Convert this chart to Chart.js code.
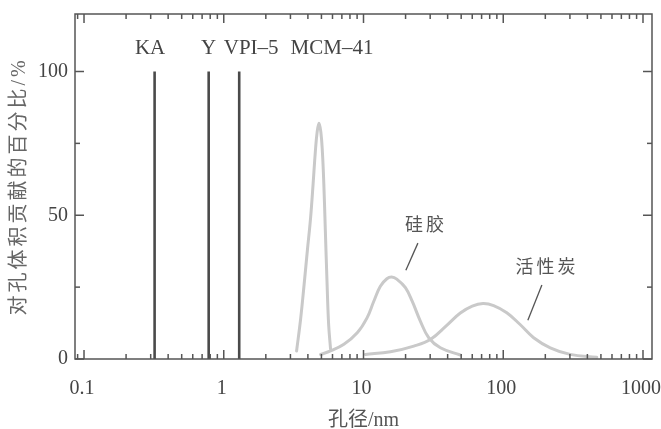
<!DOCTYPE html>
<html><head><meta charset="utf-8">
<script src="https://cdn.jsdelivr.net/npm/chart.js@4/dist/chart.umd.min.js"></script>
<style>html,body{margin:0;padding:0;background:#fff;} canvas{display:block;}</style>
</head><body>
<canvas id="c" width="661" height="429"></canvas>
<script>
// ---- tick labels ----
const xTickValues = [0.1, 1, 10, 100, 1000];
const xTickLabels = ['0.1', '1', '10', '100', '1000'];
const yTickValues = [0, 50, 100];
const yTickLabels = ['0', '50', '100'];

// ---- zeolites: single pore size (nm), 100 % ----
const zeoliteNames = ['KA', 'Y', 'VPI–5'];
const zeoliteSizes = [0.32, 0.78, 1.29];
const zeoliteShare = [100, 100, 100];

// ---- MCM-41 distribution ----
const mcmX = [3.32, 3.55, 3.76, 3.97, 4.18, 4.36, 4.52, 4.66, 4.80, 4.95, 5.08, 5.20, 5.33, 5.48, 5.63, 5.81];
const mcmY = [2.8, 14, 26, 38, 49, 61, 72, 79, 82, 79, 72, 61, 45, 27, 12, 3.5];

// ---- 硅胶 (silica gel) ----
const silicaX = [4.93, 5.81, 7.24, 9.02, 10.6, 11.85, 13.2, 14.7, 15.9, 17.3, 19.95, 22.3, 25.5, 29.3, 35.5, 49.3];
const silicaY = [1.6, 2.8, 5.1, 9.1, 14.3, 20.1, 25.3, 27.9, 28.5, 27.8, 24.8, 20.1, 13.2, 7.4, 3.9, 1.4];

// ---- 活性炭 (activated carbon) ----
const carbonX = [10.3, 15.6, 22.9, 30.1, 39.6, 49.3, 60, 71.6, 85.3, 106, 132, 165, 217, 301, 467];
const carbonY = [1.6, 2.5, 4.5, 6.8, 11.8, 16.0, 18.4, 19.3, 18.6, 16.1, 12, 7.4, 3.9, 1.6, 0.6];

// ---- text annotations (anchored in data units) ----
const topLabels = ['KA', 'Y', 'VPI–5', 'MCM–41'];
const topLabelX = [0.297, 0.78, 1.57, 5.95];
const topLabelY = 106.2;
const curveNames = ['硅胶', '活性炭'];
const curveLabelX = [28, 206];
const curveLabelY = [46.9, 32.3];
const leaderX = [[24.5, 20.1], [189, 150]];
const leaderY = [[40.3, 30.9], [25.7, 13.5]];

const SERIF = "'Liberation Serif', 'Noto Sans CJK SC', serif";
const CJK = "'Noto Sans CJK SC', 'Liberation Serif', sans-serif";
const AXIS = '#555';
const pts = (xs, ys) => xs.map((v, i) => ({x: v, y: ys[i]}));

const datasets = [];
zeoliteSizes.forEach((s, i) => {
  datasets.push({label: zeoliteNames[i], data: [{x: s, y: 0}, {x: s, y: zeoliteShare[i]}],
    borderColor: '#4a4a4a', borderWidth: 2.6, pointRadius: 0, tension: 0});
});
[[mcmX, mcmY, 'MCM–41'], [silicaX, silicaY, '硅胶'], [carbonX, carbonY, '活性炭']].forEach(([xs, ys, n]) => {
  datasets.push({label: n, data: pts(xs, ys), borderColor: '#c9c9c9', borderWidth: 3,
    pointRadius: 0, tension: 0.4, borderCapStyle: 'round', borderJoinStyle: 'round'});
});

const decor = {
  id: 'decor',
  beforeDraw(chart) {
    const s = chart.scales.y;
    if (!s._lsWrapped) {
      const orig = s.drawTitle.bind(s);
      s.drawTitle = function () { const c = this.ctx; c.save(); c.letterSpacing = '3px'; orig(); c.restore(); };
      s._lsWrapped = true;
    }
  },
  afterDraw(chart) {
    const {ctx, chartArea: a, scales: {x, y}} = chart;
    ctx.save();
    ctx.strokeStyle = AXIS; ctx.lineWidth = 1.5;
    ctx.strokeRect(a.left, a.top, a.right - a.left, a.bottom - a.top);
    const seg = (x1, y1, x2, y2) => { ctx.beginPath(); ctx.moveTo(x1, y1); ctx.lineTo(x2, y2); ctx.stroke(); };
    for (let e = -2; e <= 3; e++) for (let m = 1; m <= 9; m++) {
      const v = m * Math.pow(10, e);
      if (v < x.min || v > x.max) continue;
      const px = x.getPixelForValue(v); const len = m === 1 ? 9 : 5;
      seg(px, a.bottom, px, a.bottom - len); seg(px, a.top, px, a.top + len);
    }
    for (let v = 0; v <= 100; v += 25) {
      const py = y.getPixelForValue(v); const len = v % 50 === 0 ? 9 : 5;
      seg(a.left, py, a.left + len, py); seg(a.right, py, a.right - len, py);
    }
    // top labels
    ctx.fillStyle = '#444'; ctx.font = '21px ' + SERIF; ctx.textAlign = 'center'; ctx.textBaseline = 'alphabetic';
    topLabels.forEach((t, i) => ctx.fillText(t, x.getPixelForValue(topLabelX[i]), y.getPixelForValue(topLabelY)));
    // curve names with leader lines
    ctx.fillStyle = '#555'; ctx.font = '18px ' + CJK; ctx.textBaseline = 'middle'; ctx.letterSpacing = '3px';
    curveNames.forEach((t, i) => ctx.fillText(t, x.getPixelForValue(curveLabelX[i]), y.getPixelForValue(curveLabelY[i])));
    ctx.letterSpacing = '0px';
    ctx.strokeStyle = '#555'; ctx.lineWidth = 1.3;
    leaderX.forEach((lx, i) => seg(x.getPixelForValue(lx[0]), y.getPixelForValue(leaderY[i][0]),
                                   x.getPixelForValue(lx[1]), y.getPixelForValue(leaderY[i][1])));
    ctx.restore();
  }
};

new Chart(document.getElementById('c'), {
  type: 'line',
  data: {datasets},
  plugins: [decor],
  options: {
    responsive: false, animation: false, devicePixelRatio: 1,
    layout: {padding: {left: 0, top: 14, right: 9, bottom: 0}},
    plugins: {legend: {display: false}, tooltip: {enabled: false}},
    scales: {
      x: {
        type: 'logarithmic', min: 0.0862, max: 1160,
        afterBuildTicks: s => { s.ticks = xTickValues.map(v => ({value: v})); },
        afterFit: s => { s.height = 70; s.paddingLeft = 0; s.paddingRight = 0; },
        grid: {display: false, drawTicks: false},
        border: {display: false},
        ticks: {callback: (v) => xTickLabels[xTickValues.indexOf(v)], color: '#444',
          font: {family: SERIF, size: 20}, padding: 18, labelOffset: -2, maxRotation: 0, autoSkip: false},
        title: {display: true, text: '孔径/nm', color: '#555', font: {family: SERIF, size: 20},
          padding: {top: 0, bottom: -4}}
      },
      y: {
        type: 'linear', min: 0, max: 120,
        afterBuildTicks: s => { s.ticks = yTickValues.map(v => ({value: v})); },
        afterFit: s => { s.width = 75; s.paddingTop = 0; s.paddingBottom = 0; },
        grid: {display: false, drawTicks: false},
        border: {display: false},
        ticks: {callback: (v) => yTickLabels[yTickValues.indexOf(v)], color: '#444',
          font: {family: SERIF, size: 20}, padding: 7},
        title: {display: true, text: '对孔体积贡献的百分比/%', color: '#666',
          font: {family: SERIF, size: 20}, padding: {top: 8, bottom: 0}}
      }
    }
  }
});
</script>
</body></html>
